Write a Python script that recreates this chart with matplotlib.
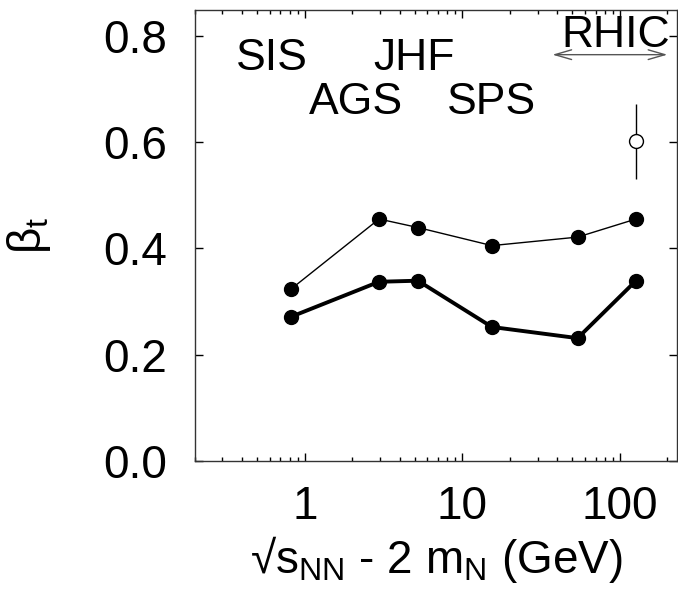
import matplotlib
matplotlib.use("Agg")
import matplotlib.pyplot as plt

plt.rcParams['font.family'] = ['Liberation Sans', 'DejaVu Sans']
plt.rcParams['mathtext.fontset'] = 'custom'
plt.rcParams['mathtext.rm'] = 'Liberation Sans'
plt.rcParams['mathtext.it'] = 'Liberation Sans'

# Data
energy = [0.815, 2.96, 5.22, 15.4, 53.9, 126.5]
beta_upper = [0.323, 0.455, 0.439, 0.405, 0.421, 0.455]
beta_lower = [0.271, 0.337, 0.339, 0.252, 0.231, 0.339]
rhic_x = [127.0]
rhic_y = [0.601]
rhic_err = [0.07]

facility_labels = ["SIS", "JHF", "AGS", "SPS"]
facility_x = [0.615, 4.91, 2.10, 15.2]
facility_y = [0.7355, 0.7355, 0.653, 0.653]

fig = plt.figure(figsize=(6.78, 5.99), dpi=100)
ax = fig.add_axes([194.7/678, 138/599, (677.5-194.7)/678, (461-10)/599])

ax.plot(energy, beta_upper, '-o', color='black', lw=1.0, ms=10, mfc='black', mec='black')
ax.plot(energy, beta_lower, '-o', color='black', lw=2.8, ms=10, mfc='black', mec='black')
ax.errorbar(rhic_x, rhic_y, yerr=rhic_err, fmt='o', mfc='white', mec='black',
            ecolor='black', ms=10, mew=1.0, elinewidth=1.0, capsize=0)

ax.set_xscale('log')
ax.set_xlim(0.2, 232)
ax.set_ylim(0.0, 0.848)
ax.set_yticks([0.0, 0.2, 0.4, 0.6, 0.8])
ax.set_yticklabels(['0.0', '0.2', '0.4', '0.6', '0.8'])
ax.set_xticks([1, 10, 100])
ax.set_xticklabels(['1', '10', '100'])

ax.tick_params(which='major', direction='in', length=6, width=1, top=True, right=True,
               labelsize=33)
ax.tick_params(axis='y', which='major', pad=20)
ax.tick_params(axis='x', which='major', pad=17)
ax.tick_params(which='minor', direction='in', length=3, width=1, top=True, right=True)
ax.tick_params(axis='y', which='minor', left=False, right=False)
for s in ax.spines.values():
    s.set_linewidth(1.0)
    s.set_color('#333333')

for lab, x, y in zip(facility_labels, facility_x, facility_y):
    ax.text(x, y, lab, ha='center', va='baseline', fontsize=32)

ax.text(94.5, 0.779, "RHIC", ha='center', va='baseline', fontsize=32)
ax.annotate('', xy=(37.3, 0.764), xytext=(200, 0.764),
            arrowprops=dict(arrowstyle='<->,head_length=1.2,head_width=0.35',
                            color='#555555', lw=1.0, shrinkA=0, shrinkB=0))

ax.set_xlabel(r'√s$_{\mathrm{NN}}$ - 2 m$_{\mathrm{N}}$ (GeV)', fontsize=33, labelpad=4)
ax.set_ylabel(r'β$_{\mathrm{t}}$', fontsize=33, labelpad=36)

fig.savefig('out.png', dpi=100)
